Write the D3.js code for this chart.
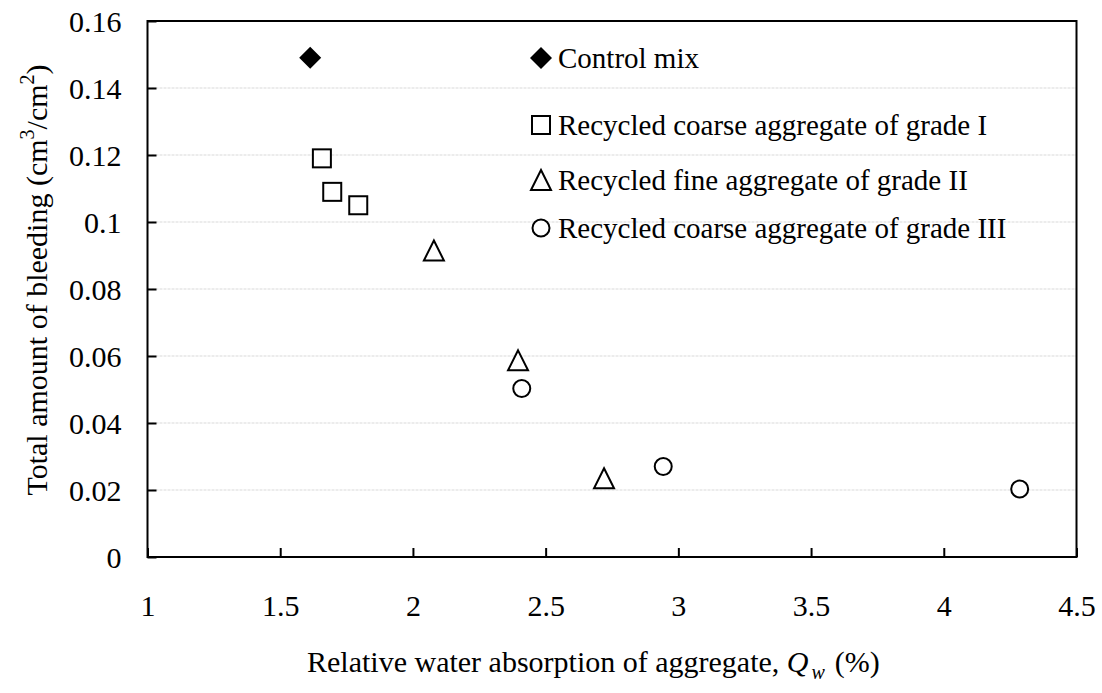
<!DOCTYPE html>
<html><head><meta charset="utf-8">
<script src="https://cdn.jsdelivr.net/npm/d3@7"></script>
<style>body{margin:0;background:#fff}svg{display:block}</style>
</head><body><svg id="c" width="1102" height="693"></svg>
<script>
const seriesNames = ["Control mix","Recycled coarse aggregate of grade I","Recycled fine aggregate of grade II","Recycled coarse aggregate of grade III"];
const controlX = [1.613];
const controlY = [0.149];
const grade1X = [1.657, 1.696, 1.794];
const grade1Y = [0.119, 0.109, 0.105];
const fine2X = [2.079, 2.396, 2.72];
const fine2Y = [0.0915, 0.0587, 0.0235];
const grade3X = [2.41, 2.943, 4.286];
const grade3Y = [0.0503, 0.027, 0.0203];
const xTicks = [1,1.5,2,2.5,3,3.5,4,4.5];
const yTicks = [0,0.02,0.04,0.06,0.08,0.1,0.12,0.14,0.16];

const FONT = "Liberation Serif";
const svg = d3.select("#c").attr("font-family", FONT);
const L=147.5, R=1076.5, T=21, B=557;
const x = d3.scaleLinear().domain([1,4.5]).range([L,R]);
const y = d3.scaleLinear().domain([0,0.16]).range([B,T]);

svg.append("g").selectAll("line").data(yTicks.filter(d=>d>0&&d<0.16)).join("line")
  .attr("x1",L).attr("x2",R).attr("y1",d=>y(d)).attr("y2",d=>y(d))
  .attr("stroke","#d9d9d9").attr("stroke-width",1).attr("stroke-dasharray","3,1");

const fmtY = d=> d===0?"0":String(+d.toFixed(2));
const yAxis = d3.axisLeft(y).tickValues(yTicks).tickSizeInner(-9).tickSizeOuter(0).tickPadding(26).tickFormat(fmtY);
const gy = svg.append("g").attr("transform",`translate(${L},0)`).call(yAxis);
const xAxis = d3.axisBottom(x).tickValues(xTicks).tickSizeInner(-9).tickSizeOuter(0).tickPadding(38).tickFormat(d=>String(d));
const gx = svg.append("g").attr("transform",`translate(0,${B})`).call(xAxis);
[gx,gy].forEach(g=>{
  g.attr("font-family",FONT).attr("font-size",30);
  g.selectAll(".domain").remove();
  g.selectAll(".tick line").attr("stroke","#000").attr("stroke-width",2);
  g.selectAll(".tick text").attr("fill","#000");
});
gy.selectAll(".tick text").attr("dy","0.35em");
gx.selectAll(".tick text").attr("dy","0.71em");
svg.append("rect").attr("x",L).attr("y",T).attr("width",R-L).attr("height",B-T)
  .attr("fill","none").attr("stroke","#000").attr("stroke-width",2);

function drawMarker(g, kind, cx, cy){
  if(kind==="diamond"){
    g.append("path").attr("d",`M${cx},${cy-11}L${cx+11},${cy}L${cx},${cy+11}L${cx-11},${cy}Z`).attr("fill","#000");
  } else if(kind==="square"){
    g.append("rect").attr("x",cx-9).attr("y",cy-9).attr("width",18).attr("height",18)
      .attr("fill","#fff").attr("stroke","#000").attr("stroke-width",2);
  } else if(kind==="triangle"){
    g.append("path").attr("d",`M${cx},${cy-10}L${cx+10},${cy+10}L${cx-10},${cy+10}Z`)
      .attr("fill","#fff").attr("stroke","#000").attr("stroke-width",2);
  } else {
    g.append("circle").attr("cx",cx).attr("cy",cy).attr("r",8.5)
      .attr("fill","#fff").attr("stroke","#000").attr("stroke-width",2);
  }
}
const series = [
  {kind:"diamond", xs:controlX, ys:controlY},
  {kind:"square", xs:grade1X, ys:grade1Y},
  {kind:"triangle", xs:fine2X, ys:fine2Y},
  {kind:"circle", xs:grade3X, ys:grade3Y}
];
const gm = svg.append("g");
series.forEach(s=>{ s.xs.forEach((xv,i)=>drawMarker(gm, s.kind, x(xv), y(s.ys[i]))); });

const legY = [58,125,180,228];
const lg = svg.append("g").attr("font-family",FONT).attr("font-size",29);
series.forEach((s,i)=>{
  drawMarker(lg, s.kind, 541, legY[i]);
  lg.append("text").attr("x",558).attr("y",legY[i]).attr("dy","0.35em").text(seriesNames[i]);
});

const xt = svg.append("text").attr("font-family",FONT).attr("font-size",30).attr("x",307).attr("y",672).attr("text-anchor","start");
xt.append("tspan").text("Relative water absorption of aggregate, ");
xt.append("tspan").attr("font-style","italic").text("Q");
xt.append("tspan").attr("font-style","italic").attr("font-size",20).attr("dy","7").attr("dx","3").text("w");
xt.append("tspan").attr("dy","-7").attr("dx","10").text("(%)");

const yt = svg.append("text").attr("font-family",FONT).attr("font-size",30).attr("transform","translate(47,280) rotate(-90)").attr("text-anchor","middle");
yt.append("tspan").text("Total amount of bleeding (cm");
yt.append("tspan").attr("font-size",20).attr("dy","-13").text("3");
yt.append("tspan").attr("dy","13").text("/cm");
yt.append("tspan").attr("font-size",20).attr("dy","-13").text("2");
yt.append("tspan").attr("dy","13").text(")");
</script></body></html>
